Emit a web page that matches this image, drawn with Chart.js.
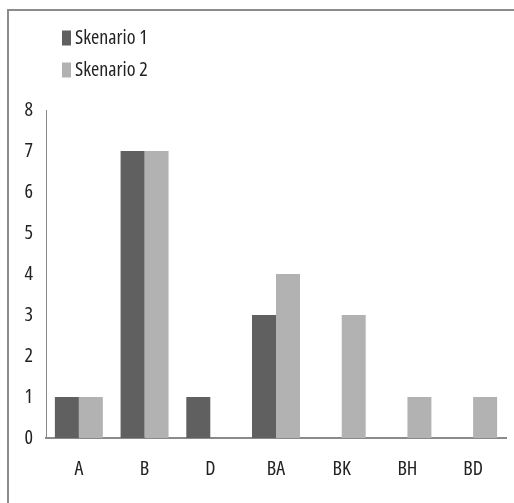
<!DOCTYPE html>
<html>
<head>
<meta charset="utf-8">
<script src="https://cdn.jsdelivr.net/npm/chart.js@4/dist/chart.umd.min.js"></script>
<style>
  html, body { margin: 0; padding: 0; background: #ffffff; }
  #wrap { position: relative; width: 514px; height: 503px; }
</style>
</head>
<body>
<div id="wrap"><canvas id="chart" width="514" height="503"></canvas></div>
<script>
// Category labels along the x axis
const categories = ['A', 'B', 'D', 'BA', 'BK', 'BH', 'BD'];
// Series names and values
const seriesNames = ['Skenario 1', 'Skenario 2'];
const skenario1 = [1, 7, 1, 3, 0, 0, 0];
const skenario2 = [1, 7, 0, 4, 3, 1, 1];
// Value axis range
const yMin = 0;
const yMax = 8;
const yStep = 1;

const FAMILY = "'Open Sans', sans-serif";
const STRETCH = 'condensed';   // goes into the canvas font string ahead of the size
const SIZE = 20;
const TEXT = '#222222';
const LINE = '#8a8a8a';
const COLORS = ['#606060', '#b2b2b2'];

// Frame around the chart (top and left edges are visible)
const framePlugin = {
  id: 'frame',
  beforeDraw(chart) {
    const ctx = chart.ctx;
    ctx.save();
    ctx.strokeStyle = '#8c8c8c';
    ctx.lineWidth = 2;
    ctx.beginPath();
    ctx.moveTo(8, chart.height + 2);
    ctx.lineTo(8, 10);
    ctx.lineTo(chart.width + 2, 10);
    ctx.stroke();
    ctx.restore();
  }
};

// Stacked legend in the upper-left corner
const stackedLegend = {
  id: 'stackedLegend',
  afterDraw(chart) {
    const ctx = chart.ctx;
    ctx.save();
    ctx.font = STRETCH + ' ' + SIZE + 'px ' + FAMILY;
    ctx.textBaseline = 'middle';
    ctx.textAlign = 'left';
    chart.data.datasets.forEach((ds, i) => {
      const cy = 38 + i * 32;
      ctx.fillStyle = ds.backgroundColor;
      ctx.fillRect(62, cy - 7.5, 9, 15);
      ctx.fillStyle = TEXT;
      ctx.fillText(ds.label, 75, cy);
    });
    ctx.restore();
  }
};

const tickFont = { family: FAMILY, size: SIZE, weight: STRETCH };

new Chart(document.getElementById('chart'), {
  type: 'bar',
  data: {
    labels: categories,
    datasets: [
      { label: seriesNames[0], data: skenario1, backgroundColor: COLORS[0] },
      { label: seriesNames[1], data: skenario2, backgroundColor: COLORS[1] }
    ]
  },
  options: {
    responsive: false,
    animation: false,
    devicePixelRatio: 1,
    layout: { padding: { top: 110, right: 8, left: 10, bottom: 0 } },
    datasets: { bar: { barPercentage: 1, categoryPercentage: 0.73 } },
    plugins: {
      legend: { display: false },
      tooltip: { enabled: false }
    },
    scales: {
      x: {
        grid: { display: false, drawTicks: false },
        border: { display: true, color: LINE, width: 2 },
        ticks: { color: TEXT, font: tickFont, padding: 19, maxRotation: 0 },
        afterFit(scale) { scale.height = 65; }
      },
      y: {
        min: yMin,
        max: yMax,
        grid: { display: false, drawTicks: false },
        border: { display: true, color: LINE, width: 1 },
        ticks: { stepSize: yStep, color: TEXT, font: tickFont, padding: 13 },
        afterFit(scale) { scale.width = 36; }
      }
    }
  },
  plugins: [framePlugin, stackedLegend]
});
</script>
</body>
</html>
